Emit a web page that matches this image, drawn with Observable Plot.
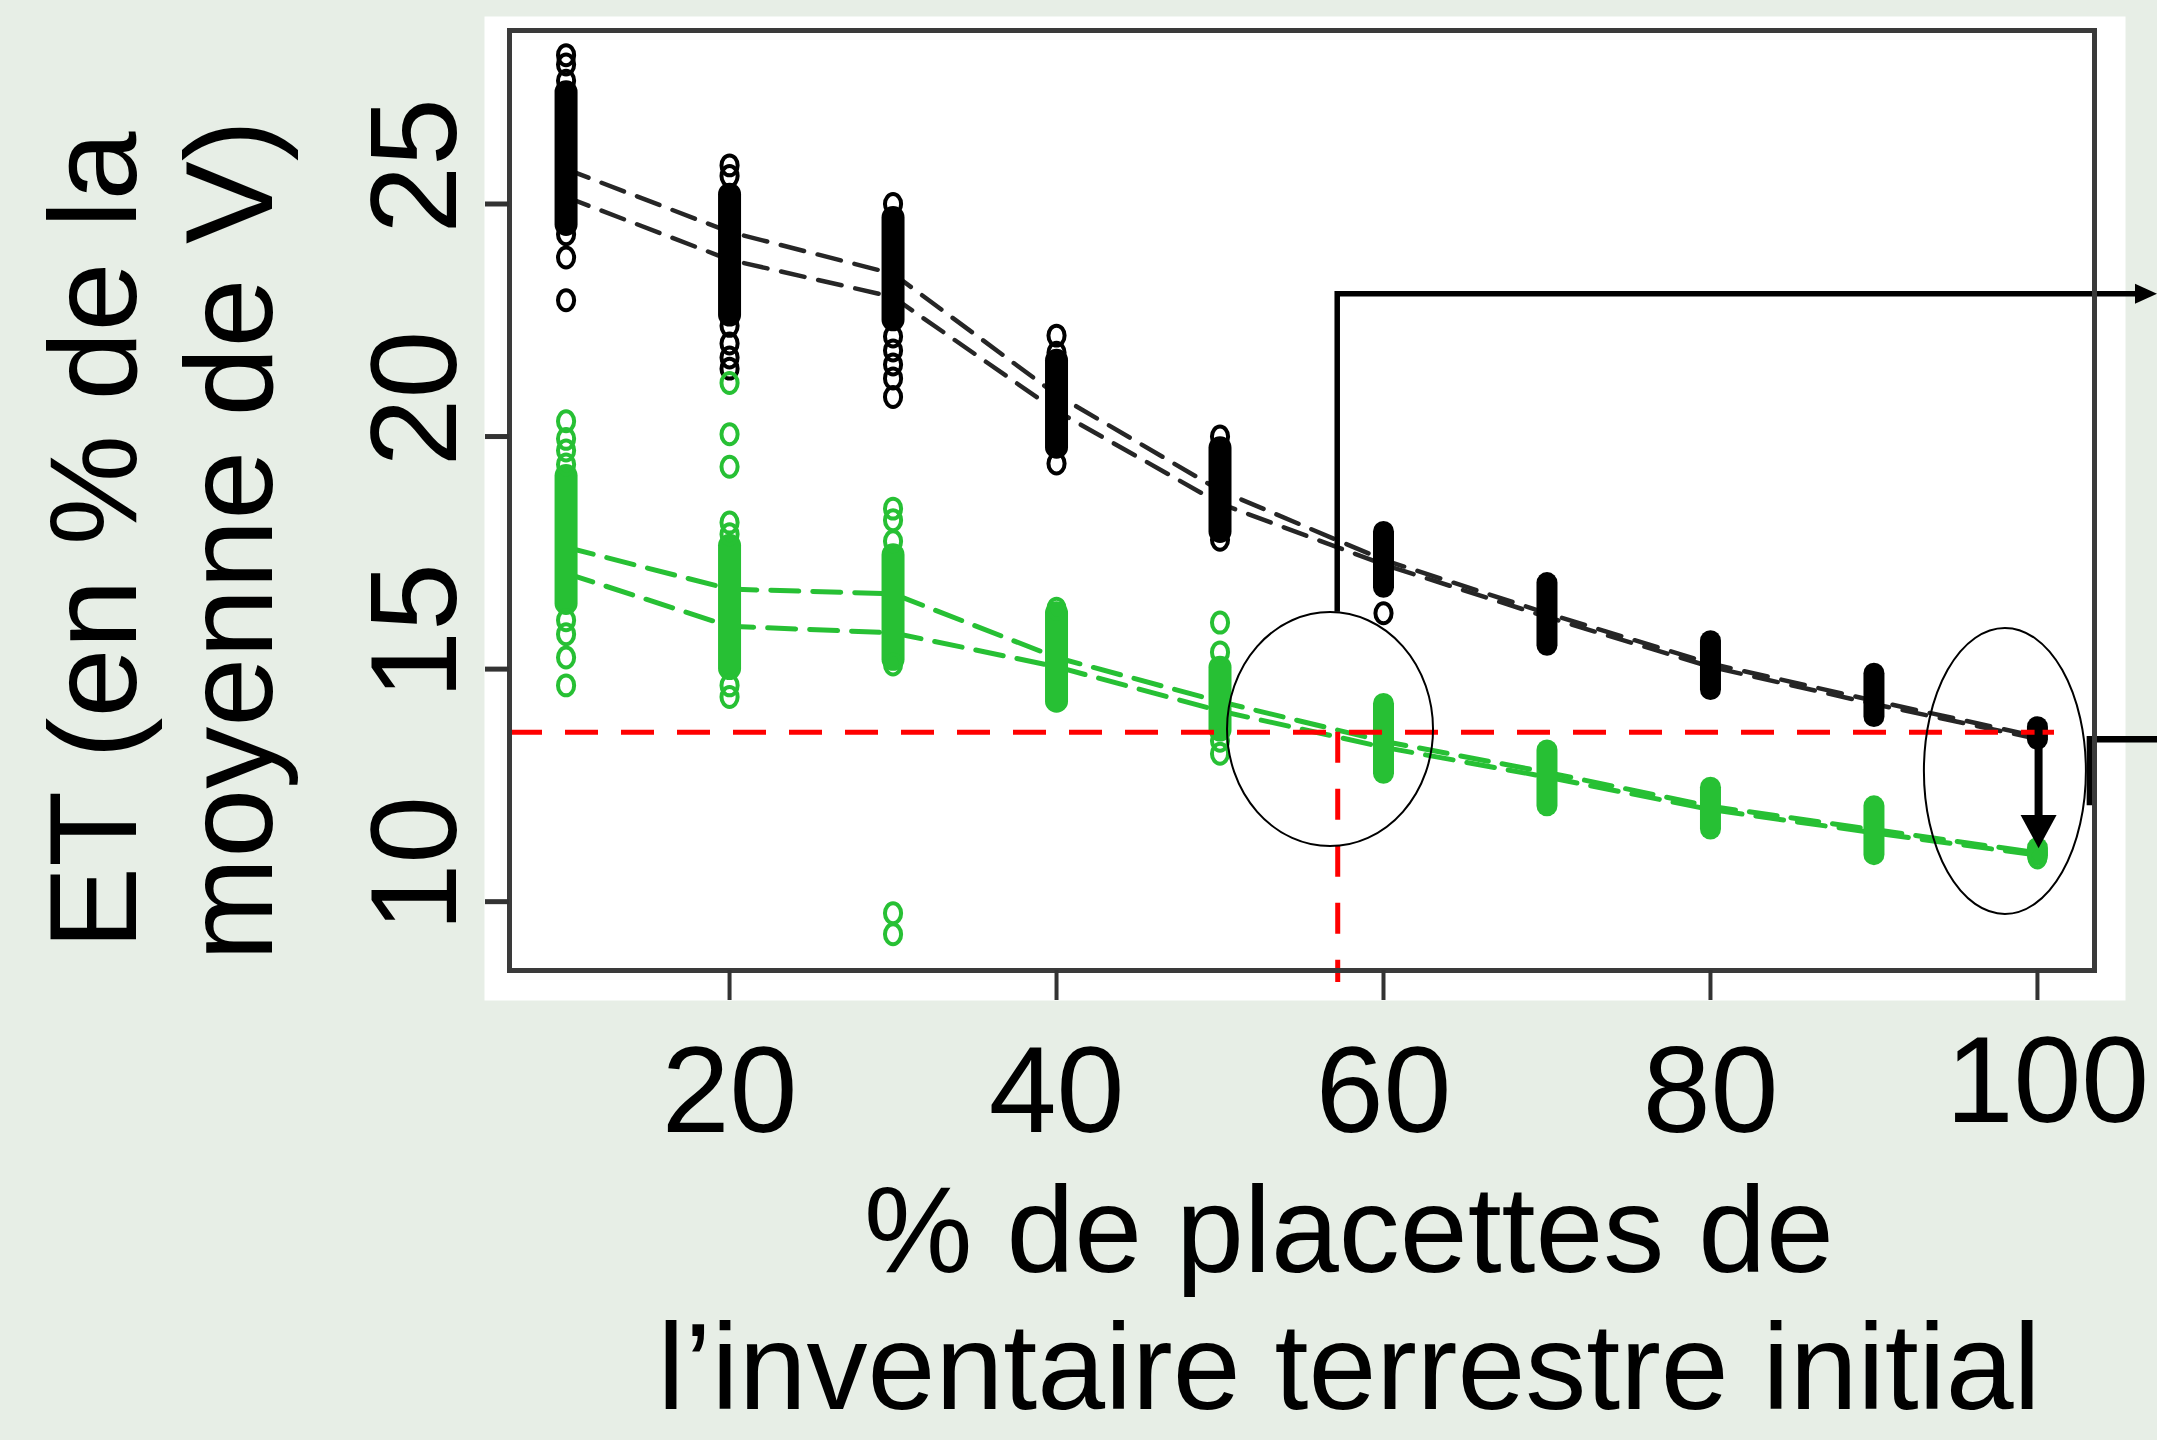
<!DOCTYPE html>
<html><head><meta charset="utf-8">
<script src="https://cdn.jsdelivr.net/npm/d3@7"></script>
<script src="https://cdn.jsdelivr.net/npm/@observablehq/plot@0.6"></script>
<style>
html,body{margin:0;padding:0;background:#e7eee6;overflow:hidden;}
#chart{position:absolute;left:0;top:0;}
</style></head><body><div id="chart"></div>
<script>
// ---- data ----
const pct = [10, 20, 30, 40, 50, 60, 70, 80, 90, 100];
// two dashed summary lines per series
const noirLigneA = [25.75, 24.4, 23.5, 20.9, 18.84, 17.35, 16.2, 15.12, 14.32, 13.55];
const noirLigneB = [25.15, 23.8, 23.0, 20.55, 18.56, 17.25, 16.12, 15.05, 14.25, 13.5];
const vertLigneA = [17.62, 16.72, 16.62, 15.25, 14.3, 13.45, 12.78, 12.05, 11.55, 11.05];
const vertLigneB = [17.06, 15.92, 15.78, 15.05, 14.1, 13.32, 12.68, 11.98, 11.48, 11.0];
// dense (overlapping) part of each cloud of simulated values
const noirMin = [24.55, 22.6, 22.5, 19.76, 17.95, 16.75, 15.5, 14.55, 13.97, 13.48];
const noirMax = [27.4, 25.2, 24.7, 21.63, 19.75, 17.95, 16.85, 15.6, 14.9, 13.75];
const vertMin = [16.4, 15.0, 15.2, 14.3, 13.68, 12.75, 12.05, 11.55, 11.0, 10.98];
const vertMax = [19.15, 17.65, 17.45, 16.2, 15.03, 14.25, 13.25, 12.45, 12.05, 11.15];
// isolated simulated values [pct, ET]
const noirPoints = [
  [10, 28.2], [10, 28.0], [10, 27.65], [10, 24.35], [10, 23.85], [10, 22.93],
  [20, 25.83], [20, 25.6], [20, 22.38], [20, 22.0], [20, 21.7], [20, 21.46],
  [30, 25.0], [30, 22.15], [30, 21.85], [30, 21.55], [30, 21.25], [30, 20.85],
  [40, 22.17], [40, 21.8], [40, 19.42],
  [50, 20.0], [50, 17.78],
  [60, 16.2]
];
const vertPoints = [
  [10, 20.33], [10, 19.95], [10, 19.7], [10, 19.4], [10, 16.05], [10, 15.75], [10, 15.25], [10, 14.65],
  [20, 21.15], [20, 20.05], [20, 19.35], [20, 18.15], [20, 17.9], [20, 14.65], [20, 14.4],
  [30, 18.45], [30, 18.2], [30, 17.75], [30, 15.1], [30, 9.75], [30, 9.3],
  [40, 16.3],
  [50, 16.0], [50, 15.36], [50, 13.46], [50, 13.18],
  [100, 11.05], [100, 10.95]
];
const seuilET = 13.64;   // red horizontal reference
const seuilPct = 57.2;   // red vertical reference
const xTicks = [20, 40, 60, 80];
const xTickLast = [100];
const yTicks = [10, 15, 20, 25];
const xDomain = [6.54, 103.49];
const yDomain = [8.52, 28.73];
const yTitle = "ET (en % de la\nmoyenne de V)";
const xTitle = "% de placettes de\nl\u2019inventaire terrestre initial";

// ---- tables ----
const lignes = pct.flatMap((p, i) => [
  {p, v: noirLigneA[i], s: "noirA", c: "noir"},
  {p, v: noirLigneB[i], s: "noirB", c: "noir"},
  {p, v: vertLigneA[i], s: "vertA", c: "vert"},
  {p, v: vertLigneB[i], s: "vertB", c: "vert"}
]);
const bandes = pct.flatMap((p, i) => [
  {p, lo: noirMin[i], hi: noirMax[i], c: "noir"},
  {p, lo: vertMin[i], hi: vertMax[i], c: "vert"}
]);
const points = [
  ...noirPoints.map(([p, v]) => ({p, v, c: "noir"})),
  ...vertPoints.map(([p, v]) => ({p, v, c: "vert"}))
];
const BLACK = "#000000", GREEN = "#27c034";
const col = c => c === "noir" ? BLACK : GREEN;

// slightly tall "0"-shaped marker symbol
const ovale = {
  draw(context, size) {
    const r = Math.sqrt(size / Math.PI), rx = r * 0.85, ry = r * 1.05, k = 0.5523;
    context.moveTo(0, -ry);
    context.bezierCurveTo(k * rx, -ry, rx, -k * ry, rx, 0);
    context.bezierCurveTo(rx, k * ry, k * rx, ry, 0, ry);
    context.bezierCurveTo(-k * rx, ry, -rx, k * ry, -rx, 0);
    context.bezierCurveTo(-rx, -k * ry, -k * rx, -ry, 0, -ry);
    context.closePath();
  }
};

// annotation marks drawn through the scales
const annotations = (index, {x, y}, values, {width}) => {
  const g = d3.create("svg:g").attr("fill", "none").attr("stroke", "#000");
  g.append("ellipse").attr("cx", x(56.76)).attr("cy", y(13.70)).attr("rx", 103).attr("ry", 117).attr("stroke-width", 2);
  g.append("ellipse").attr("cx", x(98.04)).attr("cy", y(12.8)).attr("rx", 81).attr("ry", 143).attr("stroke-width", 2);
  const ya = y(23.06);
  g.append("path").attr("d", `M${x(seuilPct)},${y(16.22)}V${ya}H${width - 18}`).attr("stroke-width", 5.5);
  g.append("path").attr("d", `M${width},${ya}L${width - 22},${ya - 10}L${width - 22},${ya + 10}Z`).attr("fill", "#000").attr("stroke", "none");
  const xa = x(100.1);
  g.append("path").attr("d", `M${xa},${y(13.72)}V${y(11.85)}`).attr("stroke-width", 8);
  g.append("path").attr("d", `M${xa},${y(11.14)}L${xa - 18},${y(11.85)}L${xa + 18},${y(11.85)}Z`).attr("fill", "#000").attr("stroke", "none");
  g.append("path").attr("d", `M${x(103.24)},${y(12.06)}V${y(13.48)}H${width}`).attr("stroke-width", 6.5);
  return g.node();
};

const font = "'Liberation Sans', Arial, sans-serif";

const chart = Plot.plot({
  width: 2157,
  height: 1440,
  marginLeft: 509,
  marginRight: 63,
  marginTop: 30,
  marginBottom: 470,
  x: {domain: xDomain},
  y: {domain: yDomain},
  style: {background: "transparent", fontFamily: font, overflow: "visible"},
  marks: [
    Plot.frame({fill: "white", stroke: "none", insetLeft: -25, insetRight: -31, insetTop: -14, insetBottom: -30}),
    Plot.line(lignes.filter(d => d.c === "noir"), {x: "p", y: "v", z: "s", stroke: "#262626", strokeWidth: 4.5, strokeDasharray: "24,14"}),
    Plot.line(lignes.filter(d => d.c === "vert"), {x: "p", y: "v", z: "s", stroke: GREEN, strokeWidth: 5, strokeDasharray: "28,14"}),
    Plot.ruleX(bandes.filter(d => d.p <= 50), {x: "p", y1: "lo", y2: "hi", stroke: d => col(d.c), strokeWidth: 23, strokeLinecap: "round"}),
    Plot.ruleX(bandes.filter(d => d.p > 50), {x: "p", y1: "lo", y2: "hi", stroke: d => col(d.c), strokeWidth: 21, strokeLinecap: "round"}),
    Plot.dot(points, {x: "p", y: "v", r: 9.5, symbol: ovale, stroke: d => col(d.c), strokeWidth: 4, fill: "none"}),
    Plot.ruleY([seuilET], {x1: xDomain[0], x2: 101.6, stroke: "#ff0000", strokeWidth: 5, strokeDasharray: "33,23"}),
    Plot.ruleX([seuilPct], {y1: seuilET, y2: 8.26, stroke: "#ff0000", strokeWidth: 5, strokeDasharray: "31,26"}),
    annotations,
    Plot.frame({stroke: "#3a3a3a", strokeWidth: 5}),
    Plot.axisX([...xTicks, ...xTickLast], {tickSize: 30, tickFormat: () => "", label: null, stroke: "#333", strokeWidth: 4}),
    Plot.axisY(yTicks, {tickSize: 24, tickFormat: () => "", label: null, stroke: "#333", strokeWidth: 5}),
    Plot.text(xTicks, {x: d => d, frameAnchor: "bottom", dy: 122, fontSize: 122, lineAnchor: "middle", fill: "#000", fontFamily: font}),
    Plot.text(xTickLast, {x: d => d, frameAnchor: "bottom", dy: 112, dx: 10, fontSize: 122, lineAnchor: "middle", fill: "#000", fontFamily: font}),
    Plot.text(yTicks, {y: d => d, frameAnchor: "left", dx: -93, dy: -38, rotate: -90, fontSize: 122, lineAnchor: "middle", textAnchor: "middle", fill: "#000", fontFamily: font}),
    Plot.text([yTitle], {frameAnchor: "left", dx: -349, dy: 40, rotate: -90, fontSize: 124, lineHeight: 1.1, lineAnchor: "middle", textAnchor: "middle", fill: "#000", fontFamily: font}),
    Plot.text([xTitle], {frameAnchor: "bottom", dx: 47, dy: 326, fontSize: 122, lineHeight: 1.12, lineAnchor: "middle", textAnchor: "middle", fill: "#000", fontFamily: font})
  ]
});
document.getElementById("chart").appendChild(chart);
</script>
</body></html>
